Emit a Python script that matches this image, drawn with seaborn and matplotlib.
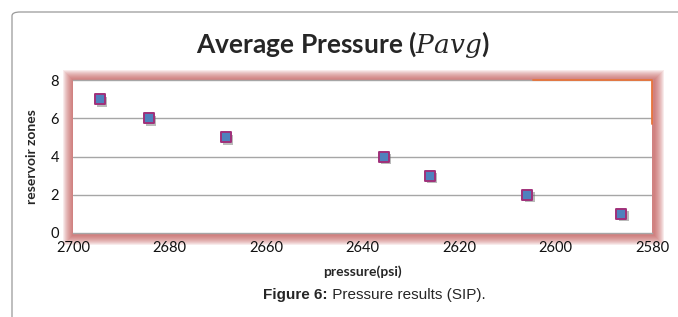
import matplotlib
matplotlib.use("Agg")
import matplotlib.pyplot as plt
import matplotlib.transforms as mtransforms
from matplotlib.patches import Rectangle, FancyBboxPatch
import pandas as pd
import seaborn as sns

# data
pressure = [2694.5, 2684.3, 2668.3, 2635.6, 2626.1, 2605.9, 2586.4]
zones = [7, 6, 5, 4, 3, 2, 1]
x_ticks = [2700, 2680, 2660, 2640, 2620, 2600, 2580]
y_ticks = [0, 2, 4, 6, 8]

title = r"Average Pressure ($\mathit{Pavg}$)"
xlabel = "pressure(psi)"
ylabel = "reservoir zones"
caption_bold = "Figure 6:"
caption_rest = " Pressure results (SIP)."

sns.set_style("white")
plt.rcParams["font.family"] = ["Lato", "DejaVu Sans"]
plt.rcParams["mathtext.fontset"] = "dejavuserif"

df = pd.DataFrame({"pressure": pressure, "zones": zones})

W, H = 678, 317
fig = plt.figure(figsize=(W / 100, H / 100), dpi=100)

# outer chart frame (rounded box running off the page)
frame = FancyBboxPatch((12 / W, -0.2), 1.2, 1 - 12 / H + 0.2,
                       boxstyle="round,pad=0,rounding_size=0.012",
                       transform=fig.transFigure, fill=False,
                       edgecolor="#9a9a9a", linewidth=0.9)
fig.patches.append(frame)

l, r, t, b = 73, 652, 80, 233

# red glow outside the plot area: stacked translucent fills, the axes covers the middle
n = 10
for k in range(n, 0, -1):
    e = k
    fig.patches.append(Rectangle(((l - e) / W, 1 - (b + e + 2) / H),
                                 (r - l + 2 * e + 2) / W, (b - t + 2 * e + 2) / H,
                                 transform=fig.transFigure, facecolor="#c0504d",
                                 edgecolor="none", alpha=0.11, zorder=-5))

ax = fig.add_axes([l / W, 1 - b / H, (r - l) / W, (b - t) / H])
ax.set_facecolor("white")

for yv in [2, 4, 6]:
    ax.axhline(yv, color="#a6a6a6", linewidth=1.0, zorder=1)

shadow = mtransforms.offset_copy(ax.transData, fig=fig, x=2.5, y=-2.5, units="dots")
ax.scatter(df["pressure"], df["zones"], marker="s", s=62, color="#666666",
           alpha=0.45, linewidth=0, transform=shadow, zorder=2)
sns.scatterplot(data=df, x="pressure", y="zones", ax=ax, marker="s", s=62,
                color="#4f81bd", edgecolor="#a0307a", linewidth=1.4, zorder=3)

ax.set_xlim(2700, 2580)
ax.set_ylim(0, 8)
ax.set_xticks(x_ticks)
ax.set_yticks(y_ticks)
ax.tick_params(axis="both", length=0, labelsize=10.5, colors="#111111", pad=6)
ax.tick_params(axis="y", pad=10)
for s in ["left", "right"]:
    ax.spines[s].set_visible(False)
for s in ["top", "bottom"]:
    ax.spines[s].set_color("#a6a6a6")
    ax.spines[s].set_linewidth(1.0)

# orange corner stroke at top right
ax.plot([0.794, 1, 1], [1, 1, 0.71], transform=ax.transAxes, color="#e8743b",
        linewidth=1.3, clip_on=False, zorder=4)

ax.set_xlabel(xlabel, fontsize=10, fontweight="bold", labelpad=7)
ax.set_ylabel(ylabel, fontsize=10, fontweight="bold", labelpad=9)

fig.text(343 / W, 1 - 45 / H, title, ha="center", va="center",
         fontsize=19, fontweight="bold")

cap_y = 1 - 295 / H
tb = fig.text(263 / W, cap_y, caption_bold, ha="left", va="center",
              fontsize=11, fontweight="bold", family="Liberation Sans")
fig.canvas.draw()
bb = tb.get_window_extent()
fig.text(bb.x1 / W, cap_y, caption_rest, ha="left", va="center",
         fontsize=11, family="Liberation Sans")

fig.savefig("out.png", dpi=100)
